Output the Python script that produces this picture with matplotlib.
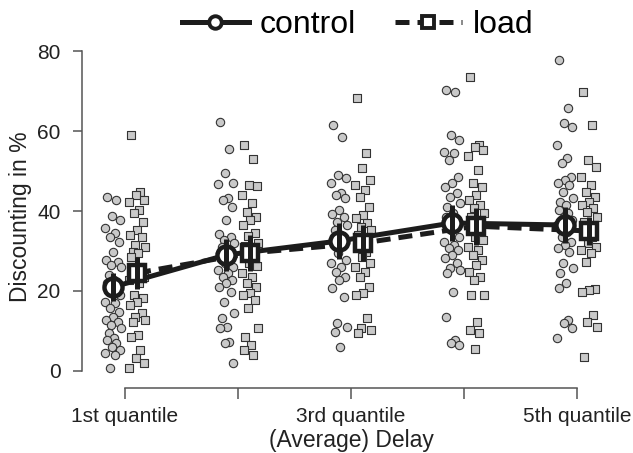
import numpy as np
import matplotlib
matplotlib.use("Agg")
import matplotlib.pyplot as plt
from matplotlib.lines import Line2D

plt.rcParams['font.family'] = ['Liberation Sans', 'DejaVu Sans']

# ---------------- данные ----------------
quantile_labels = ['1st quantile', '', '3rd quantile', '', '5th quantile']

control_mean = [21.0, 29.0, 32.5, 37.0, 36.5]
control_err = [3.5, 4.0, 4.5, 4.6, 4.6]
load_mean = [24.5, 29.5, 32.0, 36.2, 35.0]
load_err = [4.0, 4.5, 4.5, 4.6, 3.5]

control_q1 = [43.4, 42.8, 38.8, 37.7, 35.7, 34.4, 33.6, 32.3, 29.8, 27.8, 27.3, 26.5,
              26.0, 24.0, 22.8, 22.0, 21.0, 20.0, 19.0, 17.3, 16.9, 15.7, 14.8, 13.6,
              12.8, 12.3, 11.5, 10.7, 9.4, 8.2, 7.8, 6.9, 6.0, 5.3, 4.4, 4.0, 0.7]
control_q2 = [62.3, 55.5, 49.4, 46.9, 46.7, 43.2, 42.7, 41.1, 37.7, 34.2, 33.6, 32.7,
              31.9, 31.1, 30.2, 29.4, 27.7, 26.9, 26.1, 25.2, 24.4, 23.6, 22.7, 21.9,
              21.1, 19.8, 17.3, 14.4, 13.2, 11.1, 10.7, 7.3, 6.9, 1.9]
control_q3 = [61.5, 58.4, 49.0, 48.2, 46.9, 44.4, 44.0, 43.2, 40.2, 39.2, 38.6, 37.3,
              36.5, 35.2, 34.0, 32.3, 31.5, 29.4, 27.7, 26.9, 26.1, 24.8, 23.6, 22.7,
              20.7, 18.6, 11.9, 11.1, 9.8, 6.0]
control_q4 = [70.2, 69.8, 59.0, 57.7, 54.8, 54.4, 52.7, 48.6, 46.9, 46.1, 44.4, 43.6,
              41.9, 41.1, 39.4, 38.6, 36.9, 35.2, 33.6, 32.3, 31.5, 30.7, 30.2, 29.0,
              28.2, 26.9, 25.7, 25.2, 24.4, 19.8, 13.6, 7.7, 6.9, 6.5]
control_q5 = [77.7, 65.7, 61.9, 61.1, 56.5, 53.2, 51.9, 48.6, 47.7, 46.9, 46.5, 44.8,
              43.2, 42.3, 41.5, 40.2, 39.4, 38.6, 37.7, 36.5, 34.8, 33.6, 32.3, 31.5,
              30.7, 29.8, 26.9, 25.7, 24.4, 21.9, 20.7, 12.7, 11.9, 10.7, 8.2]

load_q1 = [59.0, 44.8, 44.0, 42.7, 42.3, 40.2, 39.4, 37.3, 35.2, 34.0, 33.6, 31.5,
           31.1, 29.8, 29.4, 28.6, 26.0, 24.8, 23.6, 22.7, 21.9, 19.0, 18.2, 17.3,
           16.5, 14.4, 13.6, 12.7, 12.3, 9.0, 8.6, 5.2, 3.2, 1.9, 0.7]
load_q2 = [56.5, 53.0, 46.5, 46.2, 44.0, 42.1, 39.8, 38.6, 37.7, 36.5, 34.6, 33.7,
           32.1, 31.2, 30.4, 29.6, 28.3, 27.1, 26.2, 24.4, 23.6, 21.9, 21.1, 19.4,
           19.0, 17.7, 15.7, 10.7, 8.6, 6.5, 5.2, 4.0]
load_q3 = [68.2, 54.4, 50.7, 47.7, 46.5, 45.2, 43.6, 41.1, 39.0, 38.2, 36.9, 36.1,
           35.2, 34.0, 32.7, 31.1, 29.8, 28.6, 26.9, 26.1, 24.8, 23.6, 21.1, 19.4,
           19.0, 13.2, 10.7, 10.2, 9.4]
load_q4 = [73.6, 56.5, 56.1, 55.2, 53.7, 50.2, 46.9, 46.1, 44.0, 42.7, 41.5, 40.7,
           39.4, 38.6, 37.7, 36.5, 34.8, 33.6, 32.7, 31.1, 30.2, 29.0, 27.7, 26.5,
           24.8, 23.6, 22.7, 19.0, 19.0, 12.3, 10.2, 9.4, 5.6]
load_q5 = [69.8, 61.5, 52.7, 51.1, 48.6, 46.5, 44.8, 43.6, 42.3, 41.5, 40.7, 39.8,
           38.6, 37.3, 36.1, 34.8, 33.6, 32.0, 31.1, 30.2, 29.4, 27.3, 20.5, 20.2,
           19.8, 14.0, 12.3, 11.1, 3.6]

control_pts = [control_q1, control_q2, control_q3, control_q4, control_q5]
load_pts = [load_q1, load_q2, load_q3, load_q4, load_q5]

# фиксированный сдвиг точек по x (рисунок "jitter")
jitter = [-0.05, 0.03, -0.01, 0.06, -0.07, 0.02, -0.03, 0.05, 0.0, -0.06,
          0.04, -0.02, 0.07, -0.04, 0.01]

# ---------------- график ----------------
fig = plt.figure(figsize=(6.33, 4.53), dpi=100)
ax = fig.add_axes([82/633, 65/453, 538/633, 343/453])

pos = np.arange(1, 6)
off = 0.106
dark = '#1c1c1c'

for i in range(5):
    for pts, sh, mk, s in [(control_pts[i], -off, 'o', 36), (load_pts[i], off, 's', 30)]:
        xs = [pos[i] + sh + jitter[k % len(jitter)] for k in range(len(pts))]
        ax.scatter(xs, pts, s=s, marker=mk, facecolor='#c9c9c9',
                   edgecolor='#333333', linewidth=0.8, zorder=2)

ax.plot(pos - off, control_mean, color=dark, lw=3.6, solid_capstyle='butt', zorder=3)
ax.plot(pos + off, load_mean, color=dark, lw=3.6, linestyle=(0, (2.8, 1.6)), zorder=3)

ax.plot(pos - off, control_mean, 'o', ms=13, mfc='white', mec=dark, mew=3.2,
        linestyle='none', zorder=4)
ax.plot(pos + off, load_mean, 's', ms=12, mfc='white', mec=dark, mew=3.2,
        linestyle='none', zorder=4)
ax.errorbar(pos - off, control_mean, yerr=control_err, fmt='none', ecolor=dark,
            elinewidth=3.6, capsize=0, zorder=5)
ax.errorbar(pos + off, load_mean, yerr=load_err, fmt='none', ecolor=dark,
            elinewidth=3.6, capsize=0, zorder=5)

ax.set_xlim(0.619, 5.381)
ax.set_ylim(-4.25, 81.5)

for side in ['top', 'right']:
    ax.spines[side].set_visible(False)
ax.spines['left'].set_bounds(0, 80)
ax.spines['bottom'].set_bounds(1, 5)
for side in ['left', 'bottom']:
    ax.spines[side].set_color('#555555')
    ax.spines[side].set_linewidth(1.1)

ax.set_yticks([0, 20, 40, 60, 80])
ax.set_xticks(pos)
ax.set_xticklabels(quantile_labels)
ax.tick_params(axis='y', length=6.5, width=1.1, color='#555555', labelsize=15,
               pad=9, labelcolor='#222222')
ax.tick_params(axis='x', length=8, width=1.1, color='#555555', labelsize=15,
               pad=6, labelcolor='#222222')

ax.set_xlabel('(Average) Delay', fontsize=16.5, color='#222222', labelpad=2)
ax.set_ylabel('Discounting in %', fontsize=16.5, color='#222222', labelpad=4)

handles = [
    Line2D([], [], color=dark, lw=3.6, marker='o', ms=9, mfc='white', mec=dark, mew=2.8),
    Line2D([], [], color=dark, lw=3.6, linestyle=(0, (2.8, 1.6)), marker='s', ms=8,
           mfc='white', mec=dark, mew=2.8),
]
fig.legend(handles, ['control', 'load'], loc='center', bbox_to_anchor=(0.565, 0.945),
           ncol=2, frameon=False, fontsize=23, handlelength=2.1, handletextpad=0.35,
           columnspacing=1.2, borderpad=0.1)

fig.savefig('out.png', dpi=100)
